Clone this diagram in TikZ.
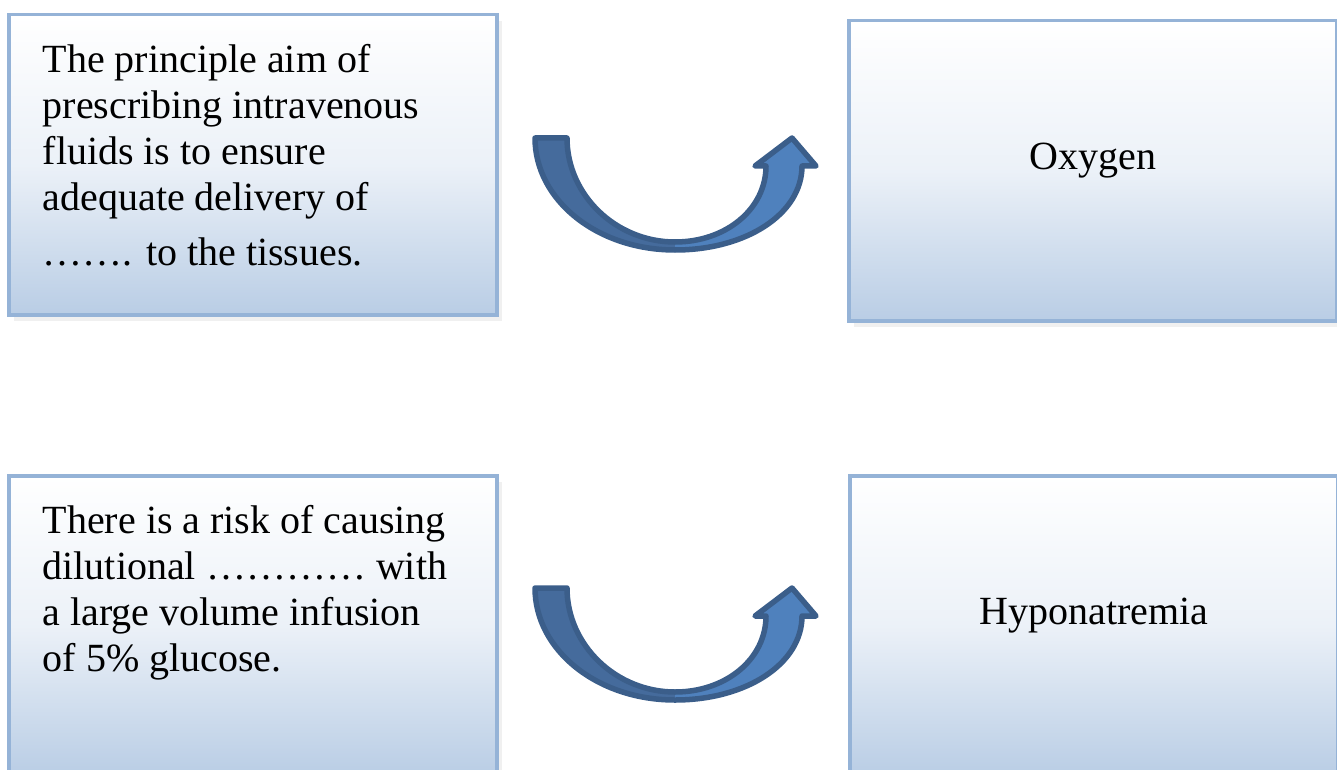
\documentclass[tikz,border=0pt]{standalone}
\usepackage{fontspec}
\setmainfont{Liberation Serif}
\usepackage{xcolor}
\usetikzlibrary{shadows}
\definecolor{cardedge}{HTML}{95B3D7}
\definecolor{cardblue}{HTML}{B9CDE5}
\definecolor{arrowline}{HTML}{3B5E8A}
\definecolor{arrowdark}{HTML}{456B9C}
\definecolor{arrowlight}{HTML}{4F81BD}

\begin{document}
\begin{tikzpicture}[
  x=1pt,y=-1pt,
  card/.style={draw=cardedge,line width=3.5pt,top color=white,bottom color=cardblue,
    middle color=cardblue!28,inner sep=0pt,minimum width=488pt,minimum height=300pt,
    anchor=north west,drop shadow={shadow xshift=5pt,shadow yshift=-6pt,opacity=.12}},
  answer/.style={card,text height=28pt,text depth=30pt},
  bendarrow/.pic={
    % dark back half of the band
    \fill[arrowdark] (-140,3) -- (-108,3) .. controls (-108,60) and (-59,107) .. (0,107)
      -- (0,115) .. controls (-78,115) and (-140,65) .. cycle;
    % light front half with the head
    \fill[arrowlight] (0,107) .. controls (51,107) and (91,74) .. (91,31) -- (80,31)
      -- (117,3) -- (141,31) -- (127,31) .. controls (127,79) and (71,115) .. (0,115) -- cycle;
    \draw[arrowline,line width=5.5pt,line join=round]
      (-140,3) -- (-108,3) .. controls (-108,60) and (-59,107) .. (0,107)
      .. controls (51,107) and (91,74) .. (91,31) -- (80,31) -- (117,3) -- (141,31)
      -- (127,31) .. controls (127,79) and (71,115) .. (0,115)
      .. controls (-78,115) and (-140,65) .. (-140,3) -- cycle;
  },
  every node/.style={font=\fontsize{40}{46}\selectfont}
]
  \useasboundingbox (0,0) rectangle (1337,770);

  % top row
  \node[card] (aim) at (7,13) {\parbox[c][240pt][t]{420pt}{\raggedright
    The principle aim of\\ prescribing intravenous\\ fluids is to ensure\\
    adequate delivery of\\[9pt] ……. to the tissues.}};
  \node[answer] (oxygen) at (847,19) {Oxygen};
  \pic at (675,135) {bendarrow};

  % bottom row
  \node[card] (risk) at (7,474) {\parbox[c][240pt][t]{420pt}{\raggedright
    There is a risk of causing\\ dilutional ………… with\\ a large volume infusion\\
    of 5\% glucose.}};
  \node[answer] (hypo) at (848,474) {Hyponatremia};
  \pic at (675,585) {bendarrow};
\end{tikzpicture}
\end{document}
